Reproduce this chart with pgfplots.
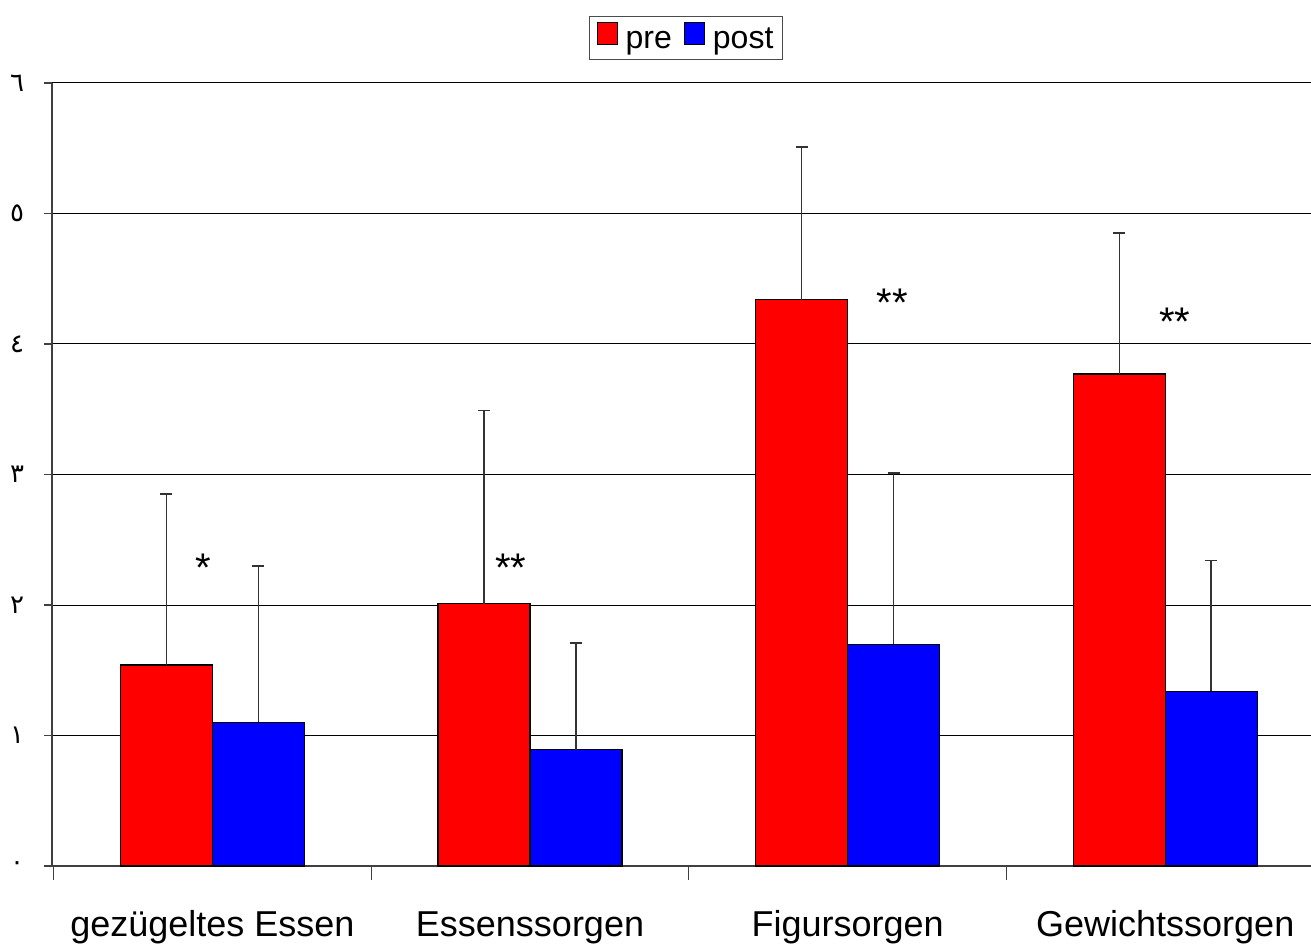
\documentclass[border=0pt]{standalone}
\usepackage{fontspec}
\setmainfont{Liberation Sans}
\newfontfamily\arabicfont[Script=Arabic]{DejaVu Sans}
\usepackage{pgfplots}
\pgfplotsset{compat=1.18}
\begin{document}
\begin{tikzpicture}[x=1pt,y=1pt]
\useasboundingbox (0,0) rectangle (1311,945);
\begin{axis}[
  at={(52pt,79pt)}, anchor=south west,
  scale only axis, width=1259pt, height=783pt,
  xmin=-0.505, xmax=3.459, ymin=0, ymax=6,
  axis x line*=bottom, axis y line*=left,
  x axis line style={-, black!75, line width=1.2pt},
  y axis line style={-, black!75, line width=1.2pt},
  tick align=outside,
  xtick={0,1,2,3},
  xticklabels={gezügeltes Essen, Essenssorgen, Figursorgen, Gewichtssorgen},
  major x tick style={draw=none},
  minor xtick={-0.5,0.5,1.5,2.5},
  minor tick length=14pt,
  minor x tick style={black!75, line width=1.2pt},
  ytick={0,1,2,3,4,5,6},
  yticklabels={{\arabicfont ٠},{\arabicfont ١},{\arabicfont ٢},{\arabicfont ٣},{\arabicfont ٤},{\arabicfont ٥},{\arabicfont ٦}},
  major tick length=8pt,
  major y tick style={black!75, line width=1.2pt},
  ymajorgrids,
  grid style={black, line width=1pt},
  xticklabel style={font=\fontsize{36}{40}\selectfont, anchor=base, yshift=-62pt},
  yticklabel style={font=\fontsize{26}{30}\selectfont, anchor=center, xshift=-27pt},
  legend style={at={(0.5036,1.0575)}, anchor=center, legend columns=2,
    draw=black!70, line width=1.2pt, font=\fontsize{32}{36}\selectfont,
    inner xsep=7pt, inner ysep=2pt,
    nodes={inner sep=2pt, text height=22pt, text depth=7pt},
    /tikz/every odd column/.append style={column sep=6pt},
    /tikz/every even column/.append style={column sep=10pt}},
  legend image code/.code={\path[draw=none,fill=none] (0pt,-7pt) rectangle (20pt,22pt);\draw[#1, draw=black, line width=1pt] (0pt,-4pt) rectangle (20pt,18pt);},
  clip=false,
]
\addplot[ybar, bar width=92pt, bar shift=0pt, fill=red, draw=black, line width=1.2pt,
  error bars/.cd, y dir=plus, y explicit,
  error bar style={draw=black!80, line width=1.5pt},
  error mark options={draw=black!80, line width=1.5pt, mark size=6pt, rotate=90}]
  coordinates {(-0.1447,1.54) +- (0,1.31) (0.8553,2.01) +- (0,1.48) (1.8553,4.34) +- (0,1.17) (2.8553,3.77) +- (0,1.08)};
\addlegendentry{pre}
\addplot[ybar, bar width=92pt, bar shift=0pt, fill=blue, draw=black, line width=1.2pt,
  error bars/.cd, y dir=plus, y explicit,
  error bar style={draw=black!80, line width=1.5pt},
  error mark options={draw=black!80, line width=1.5pt, mark size=6pt, rotate=90}]
  coordinates {(0.1447,1.10) +- (0,1.20) (1.1447,0.89) +- (0,0.82) (2.1447,1.70) +- (0,1.31) (3.1447,1.34) +- (0,1.00)};
\addlegendentry{post}
\node[font=\fontsize{40}{44}\selectfont, anchor=base, yshift=-18pt] at (axis cs:-0.03,2.32) {*};
\node[font=\fontsize{40}{44}\selectfont, anchor=base, yshift=-18pt] at (axis cs:0.94,2.32) {**};
\node[font=\fontsize{40}{44}\selectfont, anchor=base, yshift=-18pt] at (axis cs:2.14,4.35) {**};
\node[font=\fontsize{40}{44}\selectfont, anchor=base, yshift=-18pt] at (axis cs:3.03,4.20) {**};
\end{axis}
\end{tikzpicture}
\end{document}
